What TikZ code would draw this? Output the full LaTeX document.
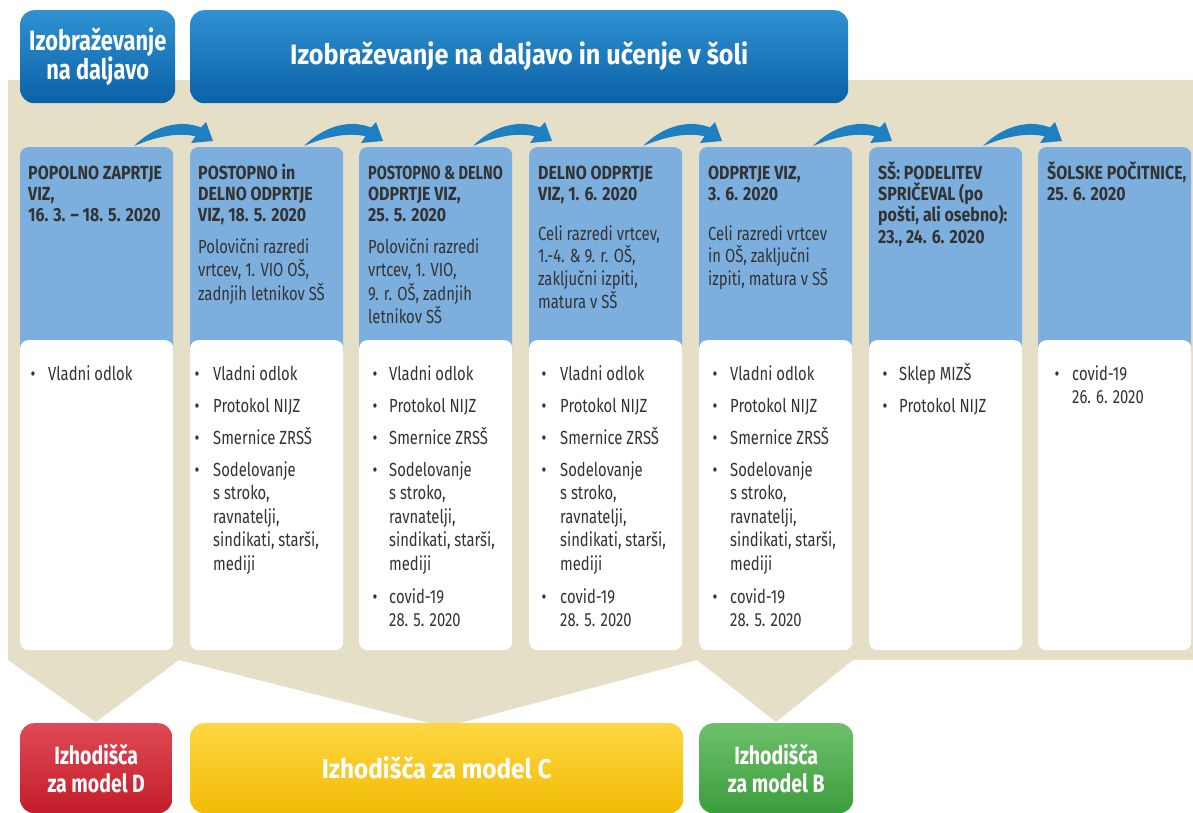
\documentclass[tikz,border=0pt]{standalone}
\usepackage{fontspec}
\setmainfont{Fira Sans}
\newfontfamily\narrowfont{Fira Sans}[FakeStretch=0.78]
\newfontfamily\headnarrow{Fira Sans}[FakeStretch=0.84]
\newfontfamily\titlefont{Fira Sans}[FakeStretch=0.78]
\newfontfamily\widetitlefont{Fira Sans}[FakeStretch=0.9]

\definecolor{paper}{HTML}{E4DFC6}
\definecolor{colblue}{HTML}{7DAFDE}
\definecolor{ink}{HTML}{333333}
\definecolor{bantop}{HTML}{2F92D2}
\definecolor{banbot}{HTML}{0B61A5}
\definecolor{swooshblue}{HTML}{1E7FC3}
\definecolor{redtop}{HTML}{DE4A55}
\definecolor{redbot}{HTML}{C41C2A}
\definecolor{yeltop}{HTML}{FDD642}
\definecolor{yelbot}{HTML}{F2BC05}
\definecolor{grntop}{HTML}{6EC06B}
\definecolor{grnbot}{HTML}{3B9E3C}

\tikzset{
  panel/.style={rounded corners=8pt, fill=colblue, draw=none, anchor=north west,
    minimum width=153pt, minimum height=213pt, inner sep=0pt},
  sheet/.style={rounded corners=8pt, fill=white, draw=none, anchor=north west,
    minimum width=153pt, minimum height=310pt, inner sep=0pt},
  headline/.style={anchor=base west, inner sep=0pt, text=ink,
    font=\headnarrow\bfseries\fontsize{19}{22}\selectfont},
  bodyline/.style={anchor=base west, inner sep=0pt, text=ink,
    font=\narrowfont\fontsize{19}{23}\selectfont},
  banner/.style={rounded corners=14pt, top color=bantop, bottom color=banbot,
    draw=none, anchor=north west, minimum height=93pt, text=white, align=center,
    inner sep=0pt},
  outcome/.style={rounded corners=14pt, draw=none, anchor=north west,
    minimum height=90pt, text=white, align=center, inner sep=0pt},
  swoosh/.style={fill=swooshblue, draw=none},
}

% several text lines, one node each, stacked by baseline
\newcommand\putlines[6]{%
  \foreach \ln [count=\k from 0] in {#6}{%
    \node[#5] (#1-\k) at (#2,{#3+\k*#4}) {\ln};
  }}
% one bullet point: dot, then its lines
\newcommand\bulletitem[5]{%
  \node[bodyline, anchor=base] (#1-dot) at (#2,#4) {•};
  \putlines{#1}{#3}{#4}{23.5}{bodyline}{#5}}

\begin{document}
\begin{tikzpicture}[x=1pt,y=-1pt]
\useasboundingbox (0,0) rectangle (1193,813);

% beige ground with the three funnels
\fill[paper] (8,80) -- (1193,80) -- (1193,660) -- (853,660) -- (776,722)
  -- (697,660) -- (445,727) -- (179,660) -- (96,722) -- (8,660) -- cycle;

% banners
\node[banner, minimum width=155pt,
  font=\titlefont\bfseries\fontsize{28}{29}\selectfont] (distance) at (20,10)
  {\raisebox{-1pt}{Izobraževanje}\\\raisebox{-1pt}{na daljavo}};
\node[banner, minimum width=658pt,
  font=\widetitlefont\bfseries\fontsize{28}{29}\selectfont] (mixed) at (190,10)
  {\raisebox{3pt}{Izobraževanje na daljavo in učenje v šoli}};

% columns
\foreach \i/\x in {1/20,2/190,3/359,4/529,5/699,6/869,7/1038}{
  \node[panel] (head\i) at (\x,147) {};
  \node[sheet] (body\i) at (\x,340) {};
}

% swooshes between the columns
\foreach \i in {1,...,6}{
  \begin{scope}[shift={(head\i.north west)}]
    \fill[swoosh] (114,-1) .. controls (134,-21) and (160,-28) .. (181,-19.5)
      -- (186,-25) -- (193,-6) -- (171,-4) -- (175.5,-10.7)
      .. controls (158,-15) and (135,-10) .. cycle;
  \end{scope}
}

% column titles
\putlines{t1}{28}{179}{21.5}{headline}{{POPOLNO ZAPRTJE},{VIZ,},{16. 3. – 18. 5. 2020}}
\putlines{t2}{198}{179}{21.5}{headline}{{POSTOPNO in},{DELNO ODPRTJE},{VIZ, 18. 5. 2020}}
\putlines{t3}{368}{179}{21.5}{headline}{{\scalebox{0.91}[1]{POSTOPNO \& DELNO}},{ODPRTJE VIZ,},{25. 5. 2020}}
\putlines{t4}{538}{179}{21.5}{headline}{{DELNO ODPRTJE},{VIZ, 1. 6. 2020}}
\putlines{t5}{708}{179}{21.5}{headline}{{ODPRTJE VIZ,},{3. 6. 2020}}
\putlines{t6}{878}{179}{21.5}{headline}{{SŠ: PODELITEV},{SPRIČEVAL (po},{pošti, ali osebno):},{23., 24. 6. 2020}}
\putlines{t7}{1047}{179}{21.5}{headline}{{ŠOLSKE POČITNICE,},{25. 6. 2020}}

% column descriptions
\putlines{d2}{198}{253}{23.5}{bodyline}{{Polovični razredi},{vrtcev, 1. VIO OŠ,},{zadnjih letnikov SŠ}}
\putlines{d3}{368}{253}{23.5}{bodyline}{{Polovični razredi},{vrtcev, 1. VIO,},{9. r. OŠ, zadnjih},{letnikov SŠ}}
\putlines{d4}{538}{240}{22.7}{bodyline}{{Celi razredi vrtcev,},{1.-4. \& 9. r. OŠ,},{zaključni izpiti,},{matura v SŠ}}
\putlines{d5}{708}{240}{22.7}{bodyline}{{Celi razredi vrtcev},{in OŠ, zaključni},{izpiti, matura v SŠ}}

% foundations listed in the white part
\bulletitem{c1a}{33}{48}{380}{{Vladni odlok}}
\foreach \i/\bx/\tx in {2/197/213,3/375/389,4/544/560,5/715/730}{
  \bulletitem{c\i a}{\bx}{\tx}{380}{{Vladni odlok}}
  \bulletitem{c\i b}{\bx}{\tx}{412}{{Protokol NIJZ}}
  \bulletitem{c\i c}{\bx}{\tx}{444}{{Smernice ZRSŠ}}
  \bulletitem{c\i d}{\bx}{\tx}{476}{{Sodelovanje},{s stroko,},{ravnatelji,},{sindikati, starši,},{mediji}}
}
\foreach \i/\bx/\tx in {3/375/389,4/544/560,5/715/730}{
  \bulletitem{c\i e}{\bx}{\tx}{603}{{covid-19},{28. 5. 2020}}
}
\bulletitem{c6a}{885}{899}{380}{{Sklep MIZŠ}}
\bulletitem{c6b}{885}{899}{412}{{Protokol NIJZ}}
\bulletitem{c7a}{1057}{1072}{380}{{covid-19},{26. 6. 2020}}

% resulting models
\node[outcome, minimum width=152pt, top color=redtop, bottom color=redbot,
  font=\titlefont\bfseries\fontsize{25}{28}\selectfont] (modelD) at (20,723)
  {\raisebox{-2pt}{Izhodišča}\\\raisebox{-2pt}{za model D}};
\node[outcome, minimum width=493pt, top color=yeltop, bottom color=yelbot,
  font=\widetitlefont\bfseries\fontsize{27}{28}\selectfont] (modelC) at (190,723)
  {Izhodišča za model C};
\node[outcome, minimum width=154pt, top color=grntop, bottom color=grnbot,
  font=\titlefont\bfseries\fontsize{25}{28}\selectfont] (modelB) at (699,723)
  {\raisebox{-2pt}{Izhodišča}\\\raisebox{-2pt}{za model B}};
\end{tikzpicture}
\end{document}
